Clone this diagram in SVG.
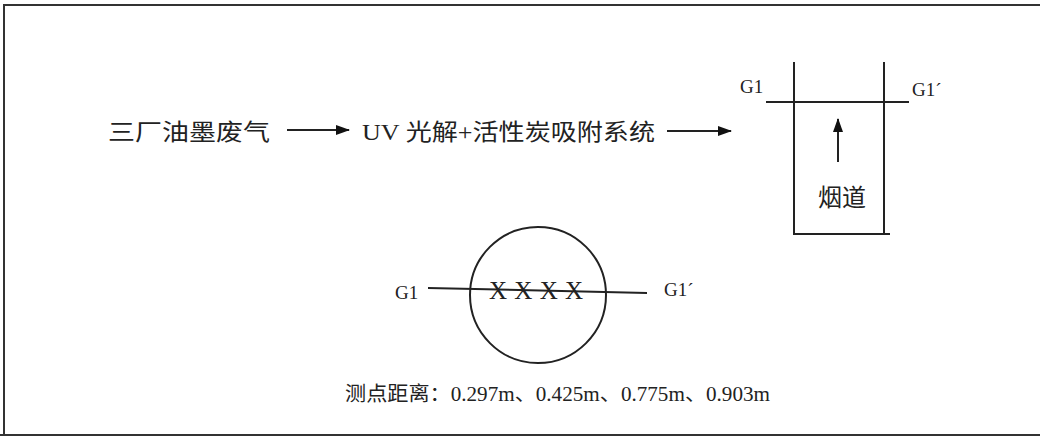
<svg xmlns="http://www.w3.org/2000/svg" width="1040" height="437" viewBox="0 0 1040 437">
<style>
.t{font-family:"Liberation Serif","Noto Sans CJK SC",serif;fill:#222;}
.ln{stroke:#222;stroke-width:2;fill:none;}
</style>
<defs>
<marker id="ah2" markerWidth="14" markerHeight="10" refX="13" refY="5" orient="auto" markerUnits="userSpaceOnUse">
<path d="M0,0 L14,5 L0,10 z" fill="#111"/>
</marker>
</defs>
<rect x="0" y="0" width="1040" height="437" fill="#fff"/>
<path d="M4,436 L4,5 L1040,5" fill="none" stroke="#333" stroke-width="2"/>
<line x1="0" y1="435" x2="1040" y2="435" stroke="#333" stroke-width="2"/>

<g id="source"><text class="t" x="108" y="140" font-size="23" textLength="162" lengthAdjust="spacingAndGlyphs">三厂油墨废气</text></g>
<g id="system"><text class="t" x="362" y="140" font-size="23" textLength="293" lengthAdjust="spacingAndGlyphs">UV 光解+活性炭吸附系统</text></g>

<g id="stack">
<line class="ln" x1="794" y1="62" x2="794" y2="233"/>
<line class="ln" x1="884" y1="62" x2="884" y2="235"/>
<line class="ln" x1="766" y1="102" x2="909" y2="102"/>
<line class="ln" x1="793" y1="234" x2="890" y2="234"/>
<text class="t" x="740" y="93" font-size="19">G1</text>
<text class="t" x="912" y="96" font-size="19">G1´</text>
<text class="t" x="818" y="206" font-size="24">烟道</text>
</g>

<g id="section">
<circle class="ln" cx="538" cy="295" r="68"/>
<text class="t" x="489" y="299" font-size="25" textLength="94" lengthAdjust="spacing">XXXX</text>
<line class="ln" x1="428" y1="288" x2="647" y2="293"/>
<text class="t" x="395" y="299" font-size="19">G1</text>
<text class="t" x="664" y="296" font-size="19">G1´</text>
</g>

<g id="note"><text class="t" x="345" y="401" font-size="20" textLength="425" lengthAdjust="spacingAndGlyphs">测点距离：0.297m、0.425m、0.775m、0.903m</text></g>

<g id="connectors">
<line class="ln" x1="287" y1="130" x2="349" y2="130" marker-end="url(#ah2)"/>
<line class="ln" x1="667" y1="131" x2="731" y2="131" marker-end="url(#ah2)"/>
<line class="ln" x1="838" y1="162" x2="838" y2="119" marker-end="url(#ah2)"/>
</g>
</svg>
